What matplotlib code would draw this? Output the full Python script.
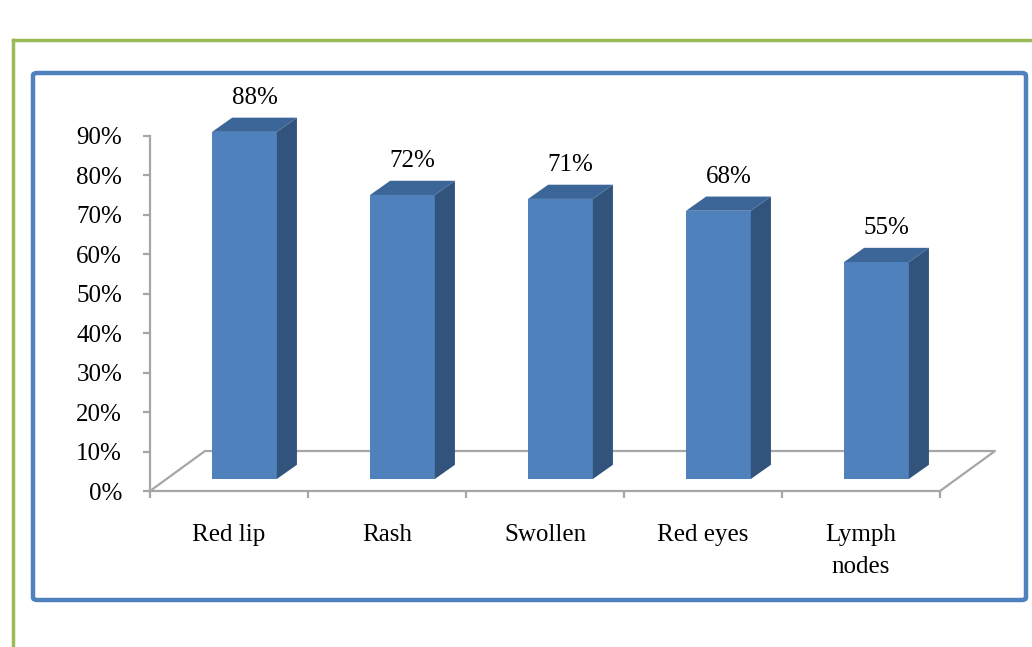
import matplotlib.pyplot as plt
from matplotlib.patches import Polygon, FancyBboxPatch
from matplotlib.lines import Line2D
import numpy as np

# data
categories = ['Red lip', 'Rash', 'Swollen', 'Red eyes', 'Lymph\nnodes']
values = [88, 72, 71, 68, 55]
y_ticks = [0, 10, 20, 30, 40, 50, 60, 70, 80, 90]

plt.rcParams['font.family'] = ['Liberation Serif', 'DejaVu Serif']

fig = plt.figure(figsize=(10.32, 6.47), dpi=100)

# page borders (green frame + blue rounded box)
W, H = 1032, 647
fig.add_artist(Line2D([13 / W, 13 / W], [0, 1 - 40 / H], color='#9BBB59', lw=2.5,
                      transform=fig.transFigure))
fig.add_artist(Line2D([13 / W, 1], [1 - 40 / H, 1 - 40 / H], color='#9BBB59', lw=2.5,
                      transform=fig.transFigure))
fig.add_artist(FancyBboxPatch((33 / W, 1 - 600 / H), 993 / W, 527 / H,
                              boxstyle='round,pad=0,rounding_size=0.004',
                              fc='none', ec='#4F81BD', lw=3.2,
                              transform=fig.transFigure))

ax = fig.add_axes([150 / W, 1 - 491 / H, 790 / W, 355 / H])
ax.set_xlim(-0.5, 4.5)
ax.set_ylim(0, 90)
ax.patch.set_visible(False)

# 3D geometry in data units
floor_dx, floor_dy = 0.348, 10.14
front_dx, front_dy = 0.098, 3.05
side_dx, side_dy = 0.127, 3.6
bar_w = 0.41

grey = '#A6A6A6'
# floor
ax.plot([-0.5, -0.5 + floor_dx, 4.5 + floor_dx, 4.5], [0, floor_dy, floor_dy, 0],
        color=grey, lw=1.6, clip_on=False, zorder=1)

front_c = '#4F81BD'
side_c = '#31537C'
top_c = '#3C6598'

for i, v in enumerate(values):
    xl = i + front_dx - bar_w / 2
    xr = i + front_dx + bar_w / 2
    b = front_dy
    t = front_dy + v
    ax.add_patch(Polygon([(xl, b), (xr, b), (xr, t), (xl, t)], closed=True,
                         fc=front_c, ec='none', clip_on=False, zorder=3))
    ax.add_patch(Polygon([(xr, b), (xr + side_dx, b + side_dy), (xr + side_dx, t + side_dy), (xr, t)],
                         closed=True, fc=side_c, ec='none', clip_on=False, zorder=3))
    ax.add_patch(Polygon([(xl, t), (xr, t), (xr + side_dx, t + side_dy), (xl + side_dx, t + side_dy)],
                         closed=True, fc=top_c, ec='none', clip_on=False, zorder=3))
    ax.annotate(f'{v}%', (i + front_dx + side_dx / 2, t + side_dy), xytext=(0, 6),
                textcoords='offset points', ha='center', va='bottom', fontsize=18,
                annotation_clip=False)

# axes styling
for s in ['top', 'right']:
    ax.spines[s].set_visible(False)
ax.spines['left'].set_color(grey)
ax.spines['bottom'].set_color(grey)
ax.spines['left'].set_linewidth(1.6)
ax.spines['bottom'].set_linewidth(1.6)

ax.set_yticks(y_ticks)
ax.set_yticklabels([f'{t}%' for t in y_ticks])
ax.tick_params(axis='y', length=5, width=1.6, color=grey, pad=15, labelsize=18)

ax.set_xticks(range(len(categories)))
ax.set_xticklabels(categories, linespacing=1.55)
ax.set_xticks(np.arange(-0.5, 5, 1), minor=True)
ax.tick_params(axis='x', which='major', length=0, pad=24, labelsize=18)
ax.tick_params(axis='x', which='minor', length=5, width=1.6, color=grey)
for lab in ax.get_xticklabels():
    lab.set_verticalalignment('top')

fig.savefig('out.png', dpi=100)
